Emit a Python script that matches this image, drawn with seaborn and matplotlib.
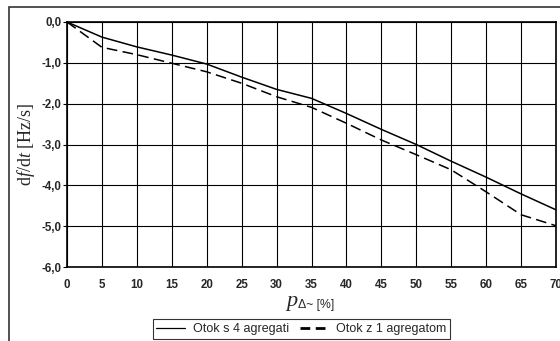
import matplotlib
matplotlib.use("Agg")
import matplotlib.pyplot as plt
import seaborn as sns
import pandas as pd
from matplotlib.patches import Rectangle
from matplotlib.lines import Line2D

# ---- data ----
p_delta = [0, 5, 10, 15, 20, 25, 30, 35, 40, 45, 50, 55, 60, 65, 70]
otok_4 = [0.0, -0.37, -0.61, -0.81, -1.03, -1.35, -1.65, -1.87, -2.24, -2.63, -3.00, -3.41, -3.80, -4.21, -4.60]
otok_1 = [0.0, -0.62, -0.80, -1.01, -1.22, -1.50, -1.83, -2.09, -2.48, -2.89, -3.25, -3.62, -4.16, -4.72, -4.99]
series_names = ["Otok s 4 agregati", "Otok z 1 agregatom"]
x_ticks = list(range(0, 71, 5))
y_ticks = [0.0, -1.0, -2.0, -3.0, -4.0, -5.0, -6.0]
y_ticklabels = ["0,0", "-1,0", "-2,0", "-3,0", "-4,0", "-5,0", "-6,0"]

df = pd.DataFrame({
    "p": p_delta * 2,
    "val": otok_4 + otok_1,
    "serija": [series_names[0]] * len(p_delta) + [series_names[1]] * len(p_delta),
})

sns.set_theme(style="white")
plt.rcParams["font.family"] = ["Liberation Sans", "DejaVu Sans"]
plt.rcParams["mathtext.fontset"] = "custom"
plt.rcParams["mathtext.rm"] = "Liberation Serif"
plt.rcParams["mathtext.it"] = "Liberation Serif:italic"

fig = plt.figure(figsize=(5.6, 3.41), dpi=100)
ax = fig.add_axes([67 / 560, 1 - 267 / 341, (556 - 67) / 560, (267 - 22) / 341])

sns.lineplot(data=df, x="p", y="val", hue="serija", style="serija",
             palette={series_names[0]: "black", series_names[1]: "black"},
             dashes={series_names[0]: "", series_names[1]: (7, 3.5)},
             linewidth=1.1, ax=ax, legend=False)

ax.set_xlim(0, 70)
ax.set_ylim(-6, 0)
ax.set_xticks(x_ticks)
ax.set_xticklabels([str(v) for v in x_ticks], fontweight="bold", fontsize=8.3)
ax.set_yticks(y_ticks)
ax.set_yticklabels(y_ticklabels, fontweight="bold", fontsize=8.3)
ax.grid(True, color="black", linewidth=0.8)
for s in ax.spines.values():
    s.set_color("black")
    s.set_linewidth(1.2)
ax.tick_params(axis="y", which="both", left=True, length=3, width=0.8, color="black", pad=1)
ax.tick_params(axis="x", which="both", bottom=False, pad=3)

ax.set_ylabel(r"d$\mathit{f}$/d$\mathit{t}$ [Hz/s]", fontsize=13, family="Liberation Serif", labelpad=3)
ax.set_xlabel("")

fig.text(297 / 560, 1 - 306 / 341, "p", family="Liberation Serif", style="italic", fontsize=16, ha="right", va="baseline")
fig.text(298 / 560, 1 - 308 / 341, "Δ~ [%]", family="Liberation Sans", fontsize=8.8, ha="left", va="baseline")

handles = [Line2D([], [], color="black", lw=0.9),
           Line2D([], [], color="black", lw=2.0, dashes=(3.5, 2))]
leg = fig.legend(handles, series_names, loc="center", bbox_to_anchor=(301.5 / 560, 1 - 329 / 341),
                 ncol=2, fontsize=9, frameon=True, fancybox=False, edgecolor="black",
                 handlelength=2.3, columnspacing=0.9, borderpad=0.3, handletextpad=0.6)
leg.get_frame().set_linewidth(0.8)

fig.patches.append(Rectangle((9 / 560, -0.5), 1.2, 1.5 - 7 / 341, transform=fig.transFigure,
                             fill=False, edgecolor="#333333", linewidth=1.2))

fig.savefig("out.png", dpi=100)
